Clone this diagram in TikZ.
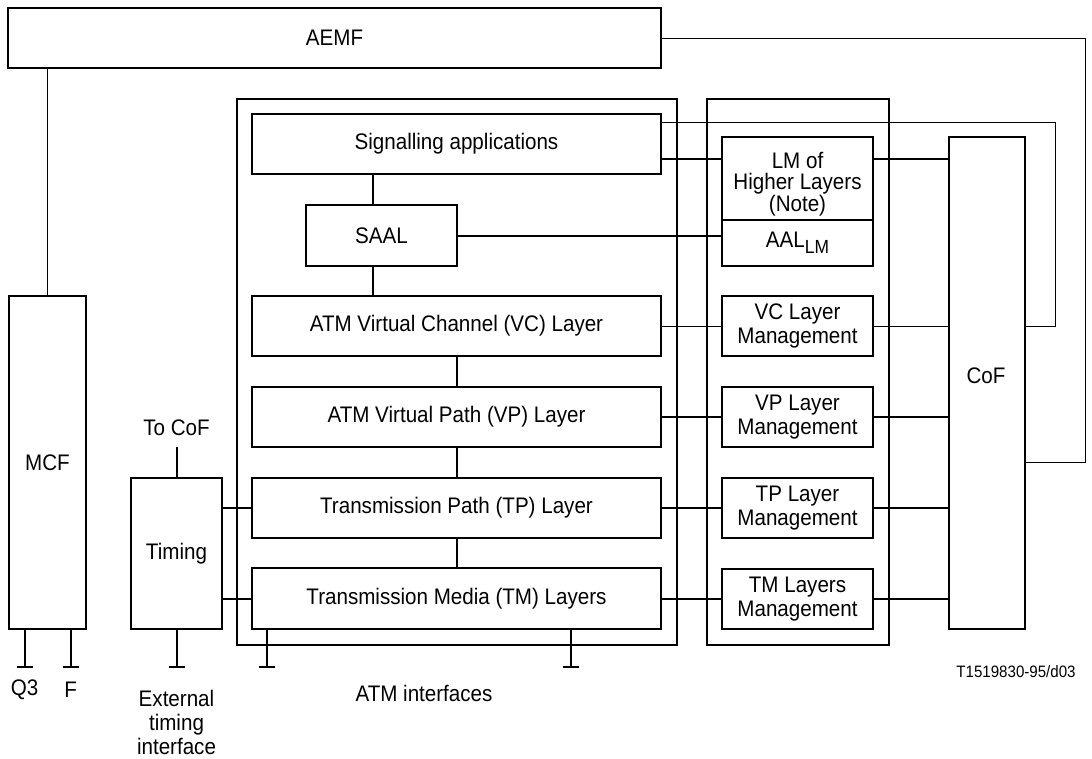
\documentclass[tikz,border=0pt]{standalone}
\usepackage{fontspec}
\setmainfont{Liberation Sans}[FakeStretch=0.915]
\begin{document}
\begin{tikzpicture}[x=1pt,y=-1pt,
  every node/.style={font=\fontsize{22.5}{24}\selectfont, inner sep=0pt},
  box/.style={draw, line width=1.1pt, align=center},
  lnthin/.style={line width=1pt},
  lnthick/.style={line width=2pt},
  lbl/.style={align=center}]
\useasboundingbox (0,0) rectangle (1092,758);
% containers
\node[box, minimum width=440pt, minimum height=546pt] (atm) at (457,372) {};
\node[box, minimum width=182pt, minimum height=546pt] (lmc) at (798,372) {};
% boxes
\node[box, minimum width=653pt, minimum height=60pt] (aemf) at (334.5,38) {AEMF};
\node[box, minimum width=77pt, minimum height=333pt] (mcf) at (47.5,462.5) {MCF};
\node[box, minimum width=91pt, minimum height=151pt] (timing) at (176.5,553.5) {Timing};
\node[box, minimum width=409pt, minimum height=60pt] (sig) at (456.5,144) {Signalling applications};
\node[box, minimum width=151pt, minimum height=61pt] (saal) at (381.5,235.5) {SAAL};
\node[box, minimum width=409pt, minimum height=60pt] (vc) at (456.5,326) {ATM Virtual Channel (VC) Layer};
\node[box, minimum width=409pt, minimum height=60pt] (vp) at (456.5,417) {ATM Virtual Path (VP) Layer};
\node[box, minimum width=409pt, minimum height=60pt] (tp) at (456.5,508) {Transmission Path (TP) Layer};
\node[box, minimum width=409pt, minimum height=61pt] (tm) at (456.5,598.5) {Transmission Media (TM) Layers};
\node[box, minimum width=151pt, minimum height=83pt] (lmh) at (797.5,178.5) {};
\node[lbl, font=\fontsize{22.5}{21.5}\selectfont] (lmht) at (797.5,184) {LM of\\Higher Layers\\(Note)};
\node[box, minimum width=151pt, minimum height=46pt] (aal) at (797.5,243) {AAL\raisebox{-6pt}{\fontsize{19}{19}\selectfont LM}};
\node[box, minimum width=151pt, minimum height=60pt] (vclm) at (797.5,326) {VC Layer\\Management};
\node[box, minimum width=151pt, minimum height=60pt] (vplm) at (797.5,417) {VP Layer\\Management};
\node[box, minimum width=151pt, minimum height=60pt] (tplm) at (797.5,508) {TP Layer\\Management};
\node[box, minimum width=151pt, minimum height=60pt] (tmlm) at (797.5,599) {TM Layers\\Management};
\node[box, minimum width=76pt, minimum height=492pt] (cof) at (987,383) {};
\node (coft) at (986,376) {CoF};
% labels
\node[lbl] (tocof) at (176.5,428) {To CoF};
\node[lbl] (q3) at (24.5,690) {Q3};
\node[lbl] (f) at (70.6,690) {F};
\node[lbl] (ext) at (176.5,722) {External\\timing\\interface};
\node[lbl] (atmi) at (424,693) {ATM interfaces};
\node[lbl, font=\fontsize{16.5}{18}\selectfont] (ref) at (1016,672) {T1519830-95/d03};
% coordinates
\coordinate (r1) at (1085,38);
\coordinate (r2) at (1085,462);
\coordinate (s1) at (1055,122);
\coordinate (s2) at (1055,326);
\coordinate (y159) at (700,159);
\coordinate (xs) at (373,0);
\coordinate (xl) at (457,0);
\coordinate (xm) at (47,0);
\coordinate (tc) at (176.5,447);
\coordinate (tq3) at (24.5,667);
\coordinate (tf) at (70.6,667);
\coordinate (text) at (176.5,667);
\coordinate (ta1) at (267,667);
\coordinate (ta2) at (571,667);
% thin connectors
\draw[lnthin] (aemf.east) -- (r1) -- (r2) -- (cof.east |- r2);
\draw[lnthin] (aemf.south -| xm) -- (mcf.north -| xm);
\draw[lnthin] (sig.east |- s1) -- (s1) -- (s2) -- (cof.east |- s2);
\draw[lnthin] (vc.east) -- (vclm.west);
\draw[lnthin] (vclm.east) -- (cof.west |- vclm.east);
% thick connectors
\draw[lnthick] (sig.east |- y159) -- (lmh.west |- y159);
\draw[lnthick] (lmh.east |- y159) -- (cof.west |- y159);
\draw[lnthick] (saal.east) -- (aal.west |- saal.east);
\draw[lnthick] (sig.south -| xs) -- (saal.north -| xs);
\draw[lnthick] (saal.south -| xs) -- (vc.north -| xs);
\draw[lnthick] (vc.south -| xl) -- (vp.north -| xl);
\draw[lnthick] (vp.south -| xl) -- (tp.north -| xl);
\draw[lnthick] (tp.south -| xl) -- (tm.north -| xl);
\draw[lnthick] (vp.east) -- (vplm.west);
\draw[lnthick] (vplm.east) -- (cof.west |- vplm.east);
\draw[lnthick] (tp.east) -- (tplm.west);
\draw[lnthick] (tplm.east) -- (cof.west |- tplm.east);
\draw[lnthick] (tm.east) -- (tmlm.west |- tm.east);
\draw[lnthick] (tmlm.east |- tm.east) -- (cof.west |- tm.east);
\draw[lnthick] (timing.east |- tp.west) -- (tp.west);
\draw[lnthick] (timing.east |- tm.west) -- (tm.west);
\draw[lnthick] (tc) -- (timing.north);
% terminals
\draw[lnthick] (mcf.south -| tq3) -- (tq3);
\draw[lnthick] ([xshift=-8pt]tq3) -- ([xshift=8pt]tq3);
\draw[lnthick] (mcf.south -| tf) -- (tf);
\draw[lnthick] ([xshift=-8pt]tf) -- ([xshift=8pt]tf);
\draw[lnthick] (timing.south -| text) -- (text);
\draw[lnthick] ([xshift=-8pt]text) -- ([xshift=8pt]text);
\draw[lnthick] (tm.south -| ta1) -- (ta1);
\draw[lnthick] ([xshift=-8pt]ta1) -- ([xshift=8pt]ta1);
\draw[lnthick] (tm.south -| ta2) -- (ta2);
\draw[lnthick] ([xshift=-8pt]ta2) -- ([xshift=8pt]ta2);
\end{tikzpicture}
\end{document}
